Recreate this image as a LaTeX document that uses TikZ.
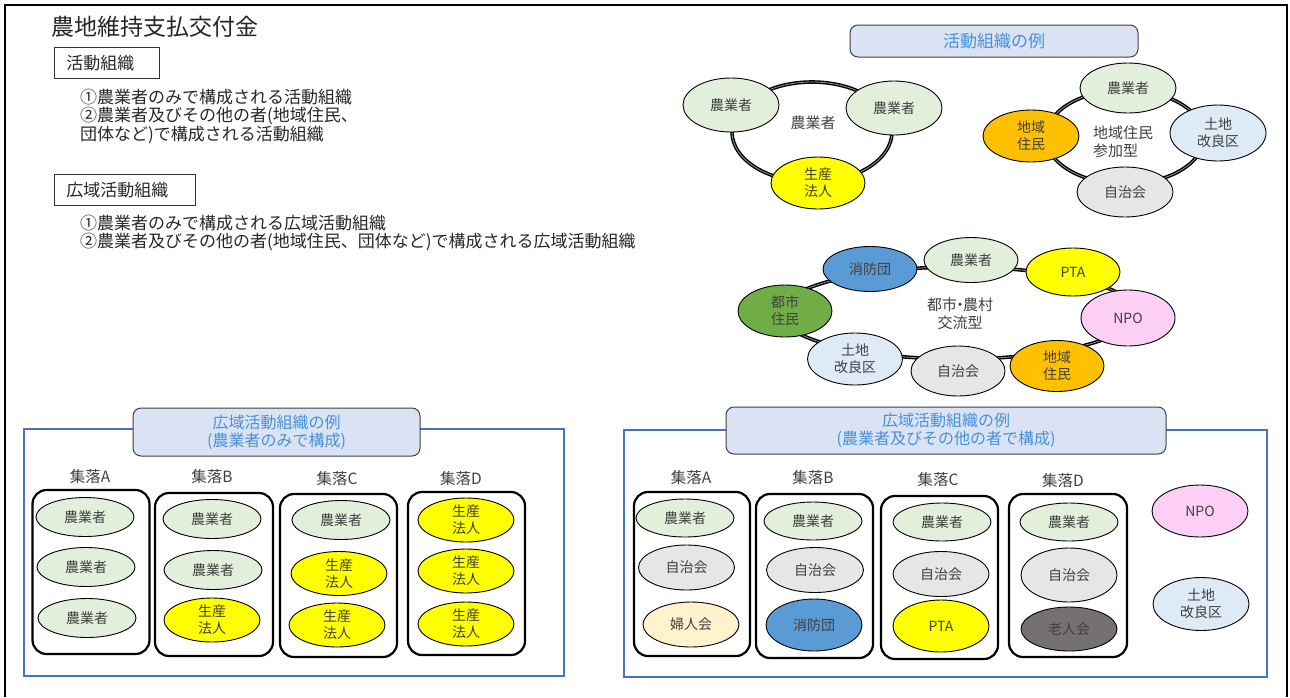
\documentclass[tikz,border=0pt]{standalone}
\usepackage{fontspec}
\setmainfont{Noto Sans CJK JP}
\usetikzlibrary{shapes.geometric}
\definecolor{farm}{RGB}{226,239,218}
\definecolor{corp}{RGB}{255,255,0}
\definecolor{resid}{RGB}{255,192,0}
\definecolor{land}{RGB}{222,235,247}
\definecolor{jichi}{RGB}{231,230,230}
\definecolor{fire}{RGB}{91,155,213}
\definecolor{city}{RGB}{112,173,71}
\definecolor{npo}{RGB}{253,207,245}
\definecolor{women}{RGB}{255,242,204}
\definecolor{elder}{RGB}{118,113,113}
\definecolor{tfill}{RGB}{218,227,243}
\definecolor{ttext}{RGB}{70,145,215}
\definecolor{panel}{RGB}{68,114,196}
\definecolor{txt}{RGB}{64,64,64}
\definecolor{ringmid}{RGB}{150,150,150}
\begin{document}
\begin{tikzpicture}[x=1pt,y=-1pt,
  org/.style={ellipse, draw=black, line width=0.9pt, inner sep=0pt, align=center, text=txt, font=\fontsize{14pt}{17pt}\selectfont},
  esz/.style 2 args={minimum width=#1pt, minimum height=#2pt},
  ringst/.style={ellipse, draw=black, line width=1.4pt, double=ringmid, double distance=0.8pt, inner sep=0pt},
  grp/.style={draw=black, line width=2.2pt, rounded corners=14pt, inner sep=0pt},
  ttl/.style={draw=txt, fill=tfill, rounded corners=8pt, line width=1pt, text=ttext, align=center, inner sep=0pt},
  lbl/.style={text=txt, inner sep=0pt, font=\fontsize{15.5pt}{18pt}\selectfont},
  bodytxt/.style={text=black!85, inner sep=0pt, anchor=west, font=\fontsize{17pt}{20pt}\selectfont},
  hbox/.style={draw=black!80, line width=0.9pt, anchor=north west, inner xsep=12pt, inner ysep=0pt, align=left, text=black!85, font=\fontsize{17pt}{20pt}\selectfont},
  ctr/.style={text=txt, inner sep=0pt, font=\fontsize{15pt}{18.5pt}\selectfont},
  pnl/.style={draw=panel, line width=1.2pt}
]
\useasboundingbox (0,0) rectangle (1290,697);
\draw[line width=2pt] (5,697) -- (5,5) -- (1287,5) -- (1287,697);

% top-left
\node[inner sep=0pt, anchor=west, text=black!85, font=\fontsize{23pt}{26pt}\selectfont] (title) at (51,27) {農地維持支払交付金};
\node[hbox, minimum height=31pt, text width=81pt] (box1) at (54,47) {活動組織};
\node[bodytxt] (l1) at (80,97) {①農業者のみで構成される活動組織};
\node[bodytxt] (l2) at (80,116) {②農業者及びその他の者(地域住民、};
\node[bodytxt] (l3) at (80,135) {団体など)で構成される活動組織};
\node[hbox, minimum height=31pt, text width=117pt] (box2) at (54,174) {広域活動組織};
\node[bodytxt] (l4) at (80,223) {①農業者のみで構成される広域活動組織};
\node[bodytxt] (l5) at (80,242) {②農業者及びその他の者(地域住民、団体など)で構成される広域活動組織};

% top-right title
\node[ttl, esz={288}{32}, font=\fontsize{17pt}{20pt}\selectfont] (ex1) at (994,41) {活動組織の例};

% ring 1
\node[ringst, esz={160}{100}] (ring1) at (812,132) {};
\node[ctr] (c1) at (813,123) {農業者};
\node[org, fill=farm, esz={96}{54}] (r1a) at (731,105) {農業者};
\node[org, fill=farm, esz={96}{54}] (r1b) at (894,108) {農業者};
\node[org, fill=corp, esz={94}{52}] (r1c) at (818,183) {生産\\法人};

% ring 2
\node[ringst, esz={158}{94}] (ring2) at (1125,137) {};
\node[ctr, align=left] (c2) at (1123,142) {地域住民\\参加型};
\node[org, fill=farm, esz={96}{50}] (r2a) at (1128,88) {農業者};
\node[org, fill=resid, esz={96}{52}] (r2b) at (1031,136) {地域\\住民};
\node[org, fill=land, esz={96}{56}] (r2c) at (1218,133) {土地\\改良区};
\node[org, fill=jichi, esz={96}{50}] (r2d) at (1125,192) {自治会};

% ring 3
\node[ringst, esz={356}{92}] (ring3) at (958,313) {};
\node[ctr, align=center] (c3) at (960,314) {都市\hspace{-4.5pt}・\hspace{-4.5pt}農村\\交流型};
\node[org, fill=fire, esz={94}{45}] (r3a) at (870,269) {消防団};
\node[org, fill=farm, esz={94}{45}] (r3b) at (971,260) {農業者};
\node[org, fill=corp, esz={94}{48}] (r3c) at (1073,272) {PTA};
\node[org, fill=npo, esz={94}{56}] (r3d) at (1128,318) {NPO};
\node[org, fill=resid, esz={94}{51}] (r3e) at (1057,366) {地域\\住民};
\node[org, fill=jichi, esz={94}{50}] (r3f) at (958,371) {自治会};
\node[org, fill=land, esz={95}{52}] (r3g) at (855,359) {土地\\改良区};
\node[org, fill=city, esz={94}{52}] (r3h) at (785,311) {都市\\住民};

% bottom-left panel
\draw[pnl] (24,429) rectangle (564,676);
\node[ttl, esz={287}{48}, font=\fontsize{16pt}{18pt}\selectfont] (ex2) at (276.5,432) {広域活動組織の例\\(農業者のみで構成)};
\node[lbl] (la) at (90,477) {集落A};
\node[lbl] (lb) at (212,477) {集落B};
\node[lbl] (lc) at (337,479) {集落C};
\node[lbl] (ld) at (461,479) {集落D};
\node[grp, esz={117}{164}] (ga) at (91,572) {};
\node[grp, esz={118}{163}] (gb) at (214,574.5) {};
\node[grp, esz={117}{163}] (gc) at (338.5,575.5) {};
\node[grp, esz={117}{163}] (gd) at (466.5,573.5) {};
\node[org, fill=farm, esz={98}{39}] (a1) at (85,517) {農業者};
\node[org, fill=farm, esz={98}{39}] (a2) at (86,567) {農業者};
\node[org, fill=farm, esz={98}{39}] (a3) at (87,618) {農業者};
\node[org, fill=farm, esz={98}{39}] (b1) at (212,519) {農業者};
\node[org, fill=farm, esz={98}{39}] (b2) at (213,570) {農業者};
\node[org, fill=corp, esz={96}{44}] (b3) at (212,620) {生産\\法人};
\node[org, fill=farm, esz={98}{39}] (cc1) at (341,520) {農業者};
\node[org, fill=corp, esz={96}{44}] (cc2) at (339,573.5) {生産\\法人};
\node[org, fill=corp, esz={96}{44}] (cc3) at (337,625) {生産\\法人};
\node[org, fill=corp, esz={96}{44}] (d1) at (466,520) {生産\\法人};
\node[org, fill=corp, esz={96}{44}] (d2) at (466,571) {生産\\法人};
\node[org, fill=corp, esz={96}{44}] (d3) at (466,624) {生産\\法人};

% bottom-right panel
\draw[pnl] (624,430) rectangle (1267,677);
\node[ttl, esz={440}{47}, font=\fontsize{16pt}{18pt}\selectfont] (ex3) at (946,430.5) {広域活動組織の例\\(農業者及びその他の者で構成)};
\node[lbl] (ra) at (691,478) {集落A};
\node[lbl] (rb) at (813,478) {集落B};
\node[lbl] (rc) at (938,480) {集落C};
\node[lbl] (rd) at (1063,481) {集落D};
\node[grp, esz={116}{164}] (ha) at (692,574) {};
\node[grp, esz={117}{164}] (hb) at (814.5,576) {};
\node[grp, esz={117}{163}] (hc) at (939.5,577.5) {};
\node[grp, esz={118}{163}] (hd) at (1068,575.5) {};
\node[org, fill=farm, esz={98}{38}] (p1) at (685,518) {農業者};
\node[org, fill=jichi, esz={96}{45}] (p2) at (686.5,567.5) {自治会};
\node[org, fill=women, esz={96}{45}] (p3) at (691,624.5) {婦人会};
\node[org, fill=farm, esz={98}{38}] (q1) at (813,521) {農業者};
\node[org, fill=jichi, esz={97}{45}] (q2) at (815,570) {自治会};
\node[org, fill=fire, esz={96}{52}] (q3) at (814,625) {消防団};
\node[org, fill=farm, esz={98}{38}] (s1) at (942,522) {農業者};
\node[org, fill=jichi, esz={96}{45}] (s2) at (941,574) {自治会};
\node[org, fill=corp, esz={96}{52}] (s3) at (941,626) {PTA};
\node[org, fill=farm, esz={98}{38}] (u1) at (1069,522) {農業者};
\node[org, fill=jichi, esz={96}{54}] (u2) at (1069,575) {自治会};
\node[org, fill=elder, esz={96}{44}] (u3) at (1069,629) {老人会};
\node[org, fill=npo, esz={96}{52}] (w1) at (1200,511) {NPO};
\node[org, fill=land, esz={96}{53}] (w2) at (1201,604) {土地\\改良区};
\end{tikzpicture}
\end{document}
